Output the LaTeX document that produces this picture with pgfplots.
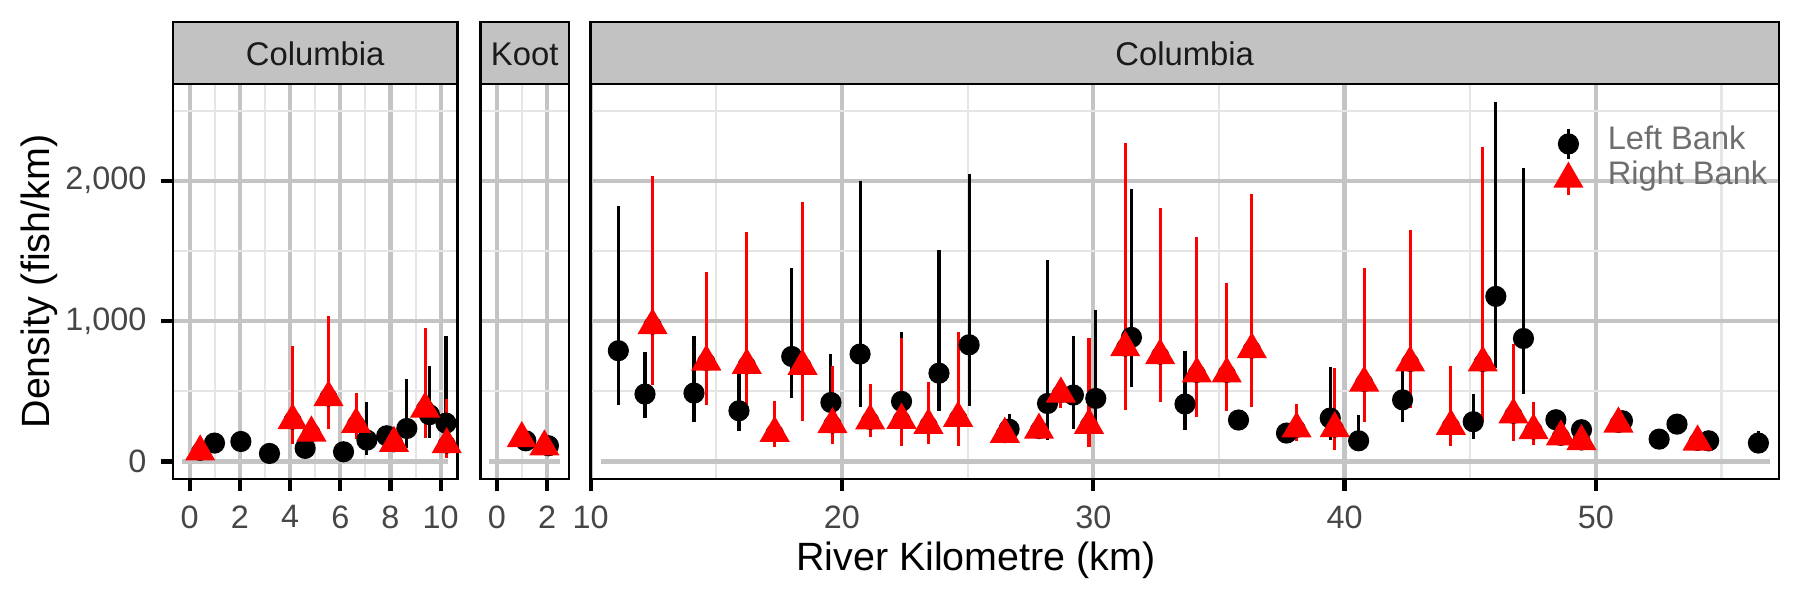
\documentclass[border=0pt]{standalone}
\usepackage{fontspec}
\setmainfont{Liberation Sans}
\usepackage{pgfplots}
\usepackage{pgfplotstable}
\pgfplotsset{compat=1.18}
\definecolor{gridmaj}{RGB}{196,196,196}
\definecolor{gridmin}{RGB}{229,229,229}
\definecolor{stripfill}{RGB}{194,194,194}
\definecolor{ticklab}{RGB}{70,70,70}
\definecolor{leggray}{RGB}{110,110,110}
\definecolor{striptext}{RGB}{26,26,26}

% Columbia (lower) -- left bank
\pgfplotstableread{
x y lo hi
0.99 131 131 131
2.04 142 142 142
3.18 57 57 57
4.60 93 93 93
6.13 69 69 69
7.06 152 47 420
7.85 183 183 183
8.65 235 93 587
9.55 333 164 682
10.21 273 120 895
}\LeftA
% Columbia (lower) -- right bank
\pgfplotstableread{
x y lo hi
0.42 69 69 69
4.10 292 124 824
4.85 204 150 260
5.53 456 230 1038
6.63 266 159 487
8.14 130 130 130
9.38 375 164 948
10.24 121 28 444
}\RightA
% Koot
\pgfplotstableread{
x y lo hi
1.15 147 147 147
2.05 112 112 112
}\LeftB
\pgfplotstableread{
x y lo hi
0.99 164 164 164
1.89 105 105 105
}\RightB
% Columbia (upper)
\pgfplotstableread{
x y lo hi
11.10 789 401 1822
12.16 480 306 777
14.11 487 283 895
15.90 361 214 634
18.00 748 449 1378
19.56 420 300 765
20.72 765 390 2000
22.37 428 300 919
23.86 629 361 1508
25.06 831 397 2047
26.65 230 150 337
28.18 413 154 1437
29.21 473 230 895
30.10 449 278 1081
31.52 884 527 1940
33.65 409 226 789
35.78 295 295 295
37.69 202 202 202
39.43 309 154 670
40.56 147 76 330
42.31 439 283 658
45.12 283 159 480
46.02 1176 663 2558
47.12 876 480 2088
48.41 297 297 297
49.43 226 226 226
51.06 290 290 290
52.52 159 159 159
53.23 266 266 266
54.49 147 147 147
56.47 131 100 218
}\LeftC
\pgfplotstableread{
x y lo hi
12.46 969 544 2035
14.60 710 401 1347
16.21 686 397 1636
17.32 202 100 432
18.43 679 290 1845
19.62 264 124 682
21.12 290 171 551
22.37 295 112 876
23.44 259 124 568
24.62 309 112 919
26.48 195 195 195
27.84 224 224 224
28.71 482 378 530
29.83 259 100 876
31.27 812 368 2268
32.66 755 420 1803
34.12 625 318 1596
35.31 625 356 1271
36.31 798 385 1905
38.09 233 147 408
39.61 235 81 663
40.78 560 283 1378
42.61 703 378 1648
44.23 252 112 682
45.50 703 290 2242
46.72 333 147 836
47.52 221 116 420
48.61 176 176 176
49.43 143 143 143
50.90 268 268 268
54.05 140 140 140
}\RightC

\pgfplotsset{
  panel/.style={
    scale only axis, height=95.11pt, ymin=-125, ymax=2688,
    anchor=south west,
    axis line style={black, line width=0.6pt},
    grid=both,
    major grid style={gridmaj, line width=1pt},
    minor grid style={gridmin, line width=0.5pt},
    ytick={1000,2000}, minor ytick={500,1500,2500},
    extra y ticks={0}, extra y tick style={grid=none},
    xtick pos=bottom, ytick pos=left,
    tick align=outside,
    major tick length=2.9pt, minor tick length=0pt,
    every tick/.style={black, line width=1pt},
    tick label style={font=\fontsize{7.8}{9}\selectfont, text=ticklab},
    /pgf/number format/assume math mode=true,
    /pgf/number format/1000 sep={,},
  },
  noy/.style={yticklabels={}, extra y tick labels={}, ytick style={draw=none}, extra y tick style={grid=none, tick style={draw=none}}},
  ebl/.style={only marks, mark=none, forget plot, error bars/.cd, y dir=both, y explicit, error mark=none, error bar style={black, line width=0.75pt}},
  ebr/.style={only marks, mark=none, forget plot, error bars/.cd, y dir=both, y explicit, error mark=none, error bar style={red, line width=0.75pt}},
  ptl/.style={only marks, mark=*, mark size=2.35pt, black},
  ptr/.style={only marks, mark=triangle*, mark size=3.8pt, red, mark options={fill=red, draw=none}},
  zl/.style={gridmaj, line width=1pt, forget plot},
}

\begin{document}
\begin{tikzpicture}
\path[use as bounding box] (0,0) rectangle (433.62pt,144.54pt);

% Panel 1: Columbia (lower)
\begin{axis}[panel, at={(41.68pt,29.15pt)}, width=68.49pt, xmin=-0.662, xmax=10.662,
  xtick={0,2,4,6,8,10}, minor xtick={1,3,5,7,9},
  yticklabels={{1,000},{2,000}}]
\addplot[zl] coordinates {(-0.304,0) (10.304,0)};
\addplot[ebl] table[x=x, y=y, y error plus expr={\thisrow{hi}-\thisrow{y}}, y error minus expr={\thisrow{y}-\thisrow{lo}}] {\LeftA};
\addplot[ebr] table[x=x, y=y, y error plus expr={\thisrow{hi}-\thisrow{y}}, y error minus expr={\thisrow{y}-\thisrow{lo}}] {\RightA};
\addplot[ptl] table[x=x,y=y] {\LeftA};
\addplot[ptr] table[x=x,y=y] {\RightA};
\end{axis}

% Panel 2: Koot
\begin{axis}[panel, noy, at={(115.71pt,29.15pt)}, width=21.39pt, xmin=-0.662, xmax=2.874,
  xtick={0,2}, minor xtick={1}]
\addplot[zl] coordinates {(-0.304,0) (2.516,0)};
\addplot[ptl] table[x=x,y=y] {\LeftB};
\addplot[ptr] table[x=x,y=y] {\RightB};
\end{axis}

% Panel 3: Columbia (upper)
\begin{axis}[panel, noy, at={(142.30pt,29.15pt)}, width=286.2pt, xmin=10, xmax=57.28,
  xtick={10,20,30,40,50}, minor xtick={15,25,35,45,55},
  legend style={at={(axis cs:48.30,2393)}, anchor=north west, draw=none, fill=none,
    inner sep=0pt, row sep=0pt, column sep=5.4pt, font=\fontsize{7.85}{9}\selectfont, text=leggray,
    nodes={inner sep=0.6pt, text height=5.0pt, text depth=2.25pt, font=\fontsize{7.85}{9}\selectfont}},
  legend cell align=left]
\addplot[zl] coordinates {(10.40,0) (56.94,0)};
\addplot[ebl] table[x=x, y=y, y error plus expr={\thisrow{hi}-\thisrow{y}}, y error minus expr={\thisrow{y}-\thisrow{lo}}] {\LeftC};
\addplot[ebr] table[x=x, y=y, y error plus expr={\thisrow{hi}-\thisrow{y}}, y error minus expr={\thisrow{y}-\thisrow{lo}}] {\RightC};
\addplot[ptl, legend image code/.code={\draw[black, line width=0.75pt] (0pt,-3.6pt)--(0pt,3.6pt); \fill[black] (0pt,0pt) circle (2.35pt);}] table[x=x,y=y] {\LeftC};
\addlegendentry{Left Bank}
\addplot[ptr, legend image code/.code={\draw[red, line width=0.75pt] (0pt,-3.9pt)--(0pt,3.0pt); \fill[red] (0pt,3.8pt) -- (3.29pt,-1.9pt) -- (-3.29pt,-1.9pt) -- cycle;}] table[x=x,y=y] {\RightC};
\addlegendentry{Right Bank}
\end{axis}

% Strips
\draw[fill=stripfill, line width=0.6pt] (41.68pt,124.26pt) rectangle (110.17pt,139.29pt);
\draw[fill=stripfill, line width=0.6pt] (115.71pt,124.26pt) rectangle (137.10pt,139.29pt);
\draw[fill=stripfill, line width=0.6pt] (142.30pt,124.26pt) rectangle (428.50pt,139.29pt);
\node[anchor=base, inner sep=0pt, text=striptext, font=\fontsize{7.9}{9}\selectfont] at (75.93pt,128.7pt) {Columbia};
\node[anchor=base, inner sep=0pt, text=striptext, font=\fontsize{7.9}{9}\selectfont] at (126.40pt,128.7pt) {Koot};
\node[anchor=base, inner sep=0pt, text=striptext, font=\fontsize{7.9}{9}\selectfont] at (285.40pt,128.7pt) {Columbia};

% Axis titles
\node[anchor=base, inner sep=0pt, font=\fontsize{9.5}{11}\selectfont] at (235.09pt,7.18pt) {River Kilometre (km)};
\node[anchor=base, rotate=90, inner sep=0pt, font=\fontsize{9.5}{11}\selectfont] at (12.0pt,76.7pt) {Density (fish/km)};
\end{tikzpicture}
\end{document}
